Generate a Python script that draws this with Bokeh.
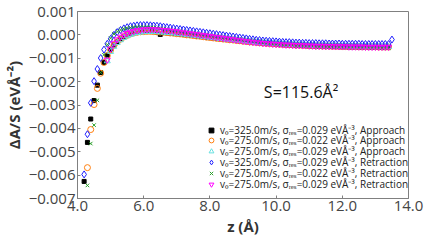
from bokeh.plotting import figure
from bokeh.models import (Range1d, FixedTicker, CustomJSTickFormatter, Legend,
                          LegendItem, Label)
from bokeh.embed import file_html
from bokeh.resources import INLINE

# ---------------- data (ΔA/S in units of 1e-3 eV/Å²) ----------------
z_grid = [4.2, 4.3, 4.4, 4.5, 4.6, 4.7, 4.8, 4.9, 5.0, 5.1, 5.2, 5.3, 5.4, 5.5,
          5.6, 5.7, 5.8, 5.9, 6.0, 6.1, 6.2, 6.3, 6.4, 6.5, 6.6, 6.7, 6.8, 6.9,
          7.0, 7.1, 7.2, 7.3, 7.4, 7.5, 7.6, 7.7, 7.8, 7.9, 8.0, 8.1, 8.2, 8.3,
          8.4, 8.5, 8.6, 8.7, 8.8, 8.9, 9.0, 9.1, 9.2, 9.3, 9.4, 9.5, 9.6, 9.7,
          9.8, 9.9, 10.0, 10.1, 10.2, 10.3, 10.4, 10.5, 10.6, 10.7, 10.8, 10.9,
          11.0, 11.1, 11.2, 11.3, 11.4, 11.5, 11.6, 11.7, 11.8, 11.9, 12.0, 12.1,
          12.2, 12.3, 12.4, 12.5, 12.6, 12.7, 12.8, 12.9, 13.0, 13.1, 13.2, 13.3,
          13.4, 13.5]

# approach, v0=325, sigma=0.029  (z from 4.2)
app_325_029 = [-6.27, -4.60, -3.60, -2.81, -2.15, -1.61, -1.18, -0.87, -0.62, -0.43,
               -0.28, -0.16, -0.07, 0.00, 0.05, 0.09, 0.12, 0.14, 0.15, 0.15,
               0.15, 0.14, 0.12, 0.02, 0.10, 0.09, 0.08, 0.06, 0.05, 0.03,
               0.02, 0.00, -0.02, -0.03, -0.05, -0.07, -0.08, -0.10, -0.12, -0.13,
               -0.15, -0.17, -0.18, -0.20, -0.21, -0.23, -0.24, -0.26, -0.27, -0.29,
               -0.30, -0.31, -0.33, -0.34, -0.35, -0.36, -0.37, -0.38, -0.39, -0.40,
               -0.41, -0.42, -0.43, -0.43, -0.44, -0.45, -0.45, -0.46, -0.46, -0.47,
               -0.47, -0.48, -0.48, -0.48, -0.49, -0.49, -0.49, -0.50, -0.50, -0.50,
               -0.50, -0.51, -0.51, -0.51, -0.51, -0.51, -0.52, -0.52, -0.52, -0.52,
               -0.52, -0.52, -0.52]
# approach, v0=275, sigma=0.022  (z from 4.3)
app_275_022 = [-5.68, -4.05, -2.98, -2.29, -1.64, -1.18, -0.89, -0.64, -0.45, -0.30,
               -0.18, -0.09, -0.02, 0.04, 0.08, 0.11, 0.13, 0.14, 0.15, 0.15,
               0.14, 0.13, 0.12, 0.11, 0.10, 0.08, 0.07, 0.05, 0.04, 0.02,
               0.00, -0.01, -0.03, -0.05, -0.06, -0.08, -0.10, -0.11, -0.13, -0.15,
               -0.16, -0.18, -0.19, -0.21, -0.22, -0.24, -0.25, -0.27, -0.28, -0.30,
               -0.31, -0.32, -0.33, -0.35, -0.36, -0.37, -0.38, -0.39, -0.40, -0.41,
               -0.41, -0.42, -0.43, -0.44, -0.44, -0.45, -0.45, -0.46, -0.46, -0.47,
               -0.47, -0.48, -0.48, -0.48, -0.49, -0.49, -0.49, -0.50, -0.50, -0.50,
               -0.50, -0.50, -0.51, -0.51, -0.51, -0.51, -0.51, -0.51, -0.52, -0.52,
               -0.52, -0.52]
# approach, v0=275, sigma=0.029  (z from 4.9)
app_275_029 = [-1.12, -0.72, -0.50, -0.34, -0.22, -0.12, -0.05, 0.01, 0.06, 0.09,
               0.11, 0.13, 0.14, 0.14, 0.14, 0.13, 0.12, 0.11, 0.10, 0.09,
               0.07, 0.06, 0.04, 0.03, 0.01, -0.01, -0.02, -0.04, -0.06, -0.07,
               -0.09, -0.11, -0.12, -0.14, -0.16, -0.17, -0.19, -0.20, -0.22, -0.23,
               -0.25, -0.26, -0.28, -0.29, -0.30, -0.32, -0.33, -0.34, -0.35, -0.36,
               -0.37, -0.38, -0.39, -0.40, -0.41, -0.42, -0.42, -0.43, -0.44, -0.44,
               -0.45, -0.45, -0.46, -0.46, -0.47, -0.47, -0.47, -0.48, -0.48, -0.48,
               -0.49, -0.49, -0.49, -0.49, -0.50, -0.50, -0.50, -0.50, -0.50, -0.51,
               -0.51, -0.51, -0.51, -0.51, -0.51, -0.51]
# retraction, v0=325, sigma=0.029  (z from 4.2 to 13.5)
ret_325_029 = [-5.97, -4.25, -2.91, -1.98, -1.46, -0.99, -0.63, -0.38, -0.17, 0.00,
               0.12, 0.21, 0.28, 0.33, 0.37, 0.39, 0.41, 0.42, 0.42, 0.42,
               0.41, 0.40, 0.39, 0.37, 0.35, 0.33, 0.31, 0.29, 0.27, 0.25,
               0.23, 0.21, 0.19, 0.17, 0.15, 0.13, 0.11, 0.09, 0.07, 0.05,
               0.03, 0.01, -0.01, -0.03, -0.05, -0.07, -0.09, -0.11, -0.13, -0.15,
               -0.17, -0.19, -0.21, -0.22, -0.24, -0.25, -0.26, -0.27, -0.28, -0.29,
               -0.30, -0.31, -0.31, -0.32, -0.33, -0.33, -0.34, -0.34, -0.35, -0.35,
               -0.35, -0.36, -0.36, -0.36, -0.37, -0.37, -0.37, -0.37, -0.38, -0.38,
               -0.38, -0.38, -0.38, -0.38, -0.39, -0.39, -0.39, -0.39, -0.39, -0.39,
               -0.39, -0.39, -0.39, -0.20]
# retraction, v0=275, sigma=0.022  (z from 4.3)
ret_275_022 = [-6.44, -4.65, -3.86, -2.80, -1.61, -0.85, -0.42, -0.14, 0.04, 0.14,
               0.21, 0.26, 0.29, 0.31, 0.33, 0.33, 0.34, 0.33, 0.33, 0.32,
               0.31, 0.29, 0.28, 0.26, 0.24, 0.22, 0.20, 0.18, 0.16, 0.14,
               0.12, 0.10, 0.08, 0.06, 0.04, 0.02, 0.00, -0.02, -0.04, -0.06,
               -0.08, -0.10, -0.12, -0.14, -0.16, -0.18, -0.20, -0.22, -0.24, -0.26,
               -0.28, -0.30, -0.32, -0.34, -0.36, -0.38, -0.40, -0.41, -0.42, -0.43,
               -0.44, -0.45, -0.46, -0.47, -0.48, -0.48, -0.49, -0.50, -0.50, -0.51,
               -0.51, -0.52, -0.52, -0.52, -0.53, -0.53, -0.53, -0.54, -0.54, -0.54,
               -0.54, -0.55, -0.55, -0.55, -0.55, -0.55, -0.55, -0.56, -0.56, -0.56,
               -0.56, -0.56]
# retraction, v0=275, sigma=0.029  (z from 4.9)
ret_275_029 = [-1.07, -0.60, -0.35, -0.20, -0.09, 0.00, 0.07, 0.12, 0.16, 0.19,
               0.21, 0.22, 0.23, 0.23, 0.23, 0.22, 0.21, 0.20, 0.19, 0.17,
               0.16, 0.14, 0.12, 0.10, 0.08, 0.06, 0.04, 0.02, 0.00, -0.02,
               -0.04, -0.06, -0.08, -0.10, -0.12, -0.14, -0.16, -0.18, -0.20, -0.22,
               -0.24, -0.26, -0.28, -0.30, -0.31, -0.33, -0.34, -0.36, -0.37, -0.38,
               -0.39, -0.40, -0.41, -0.42, -0.43, -0.43, -0.44, -0.45, -0.45, -0.46,
               -0.46, -0.47, -0.47, -0.48, -0.48, -0.48, -0.49, -0.49, -0.49, -0.50,
               -0.50, -0.50, -0.50, -0.51, -0.51, -0.51, -0.51, -0.51, -0.52, -0.52,
               -0.52, -0.52, -0.52, -0.52, -0.52, -0.52]

series_labels = [
    "v\u2080=325.0m/s, \u03c3\u1d63\u2091\u209b=0.029 eV\u00c5\u207b\u00b3, Approach",
    "v\u2080=275.0m/s, \u03c3\u1d63\u2091\u209b=0.022 eV\u00c5\u207b\u00b3, Approach",
    "v\u2080=275.0m/s, \u03c3\u1d63\u2091\u209b=0.029 eV\u00c5\u207b\u00b3, Approach",
    "v\u2080=325.0m/s, \u03c3\u1d63\u2091\u209b=0.029 eV\u00c5\u207b\u00b3, Retraction",
    "v\u2080=275.0m/s, \u03c3\u1d63\u2091\u209b=0.022 eV\u00c5\u207b\u00b3, Retraction",
    "v\u2080=275.0m/s, \u03c3\u1d63\u2091\u209b=0.029 eV\u00c5\u207b\u00b3, Retraction",
]
series_values = [app_325_029, app_275_022, app_275_029, ret_325_029, ret_275_022, ret_275_029]
series_start = [4.2, 4.3, 4.9, 4.2, 4.3, 4.9]

x_ticks = [4.0, 6.0, 8.0, 10.0, 12.0, 14.0]
x_tick_labels = ["4.0", "6.0", "8.0", "10.0", "12.0", "14.0"]
y_ticks = [0.001, 0.0, -0.001, -0.002, -0.003, -0.004, -0.005, -0.006, -0.007]
y_tick_labels = ["0.001", "0.000", "\u22120.001", "\u22120.002", "\u22120.003",
                 "\u22120.004", "\u22120.005", "\u22120.006", "\u22120.007"]
area_text = "S=115.6\u00c5\u00b2"

# ---------------- styles ----------------
styles = [
    dict(marker="square", size=4, fill_color="black", line_color="black"),
    dict(marker="circle", size=6, fill_color=None, line_color="#ff7f0e"),
    dict(marker="triangle", size=6, fill_color=None, line_color="#66e0e0"),
    dict(marker="diamond", size=7, fill_color=None, line_color="#1f1fff"),
    dict(marker="x", size=5, fill_color=None, line_color="#2ca02c"),
    dict(marker="inverted_triangle", size=6, fill_color=None, line_color="#ff00ff"),
]

FONT = "Open Sans"
GREY = "#808080"

p = figure(width=425, height=242, output_backend="svg", toolbar_location=None,
           x_range=Range1d(4.0, 14.0), y_range=Range1d(-0.007, 0.001),
           min_border_left=74, min_border_right=17, min_border_top=11,
           min_border_bottom=44)
p.grid.visible = False
p.outline_line_color = GREY
p.outline_line_width = 1
p.background_fill_color = "white"
p.border_fill_color = "white"

# one single-row legend per series so rows can sit closer than the text box height
ROW_H = 14
ROW_PITCH = 10.8
for k, (lab, vals, z0, st) in enumerate(zip(series_labels, series_values, series_start, styles)):
    i0 = z_grid.index(z0)
    zs = z_grid[i0:i0 + len(vals)]
    ys = [v * 1e-3 for v in vals]
    r = p.scatter(zs, ys, line_width=1, **st)
    bottom = 61.5 - ROW_PITCH * k
    lg = Legend(items=[LegendItem(label=lab, renderers=[r])], location=(128, bottom),
                glyph_width=12, glyph_height=ROW_H, label_height=ROW_H, spacing=0,
                label_standoff=3, padding=0, margin=0,
                label_text_font=FONT, label_text_font_size="10px",
                label_text_color="#222222", label_text_baseline="middle",
                background_fill_alpha=0, border_line_alpha=0)
    p.add_layout(lg, "center")

xfmt = CustomJSTickFormatter(args=dict(tk=x_ticks, lbl=x_tick_labels), code="""
const i = tk.findIndex(t => Math.abs(t - tick) < 1e-9);
return i >= 0 ? lbl[i] : tick.toFixed(1);""")
yfmt = CustomJSTickFormatter(args=dict(tk=y_ticks, lbl=y_tick_labels), code="""
const i = tk.findIndex(t => Math.abs(t - tick) < 1e-12);
return i >= 0 ? lbl[i] : tick.toFixed(3);""")

for ax, tks, fm in ((p.xaxis[0], x_ticks, xfmt), (p.yaxis[0], y_ticks, yfmt)):
    ax.ticker = FixedTicker(ticks=tks)
    ax.formatter = fm
    ax.axis_line_color = GREY
    ax.major_tick_line_color = GREY
    ax.major_tick_in = 3
    ax.major_tick_out = 0
    ax.minor_tick_line_color = None
    ax.major_label_text_font = FONT
    ax.major_label_text_font_size = "15px"
    ax.major_label_text_color = "#444444"
    ax.axis_label_text_font = FONT
    ax.axis_label_text_font_size = "15px"
    ax.axis_label_text_font_style = "bold"
    ax.axis_label_text_color = "#333333"
    ax.major_label_standoff = 2
    ax.axis_label_standoff = 2

p.xaxis.axis_label = "z (\u00c5)"
p.yaxis.axis_label = "\u0394A/S (eV\u00c5\u207b\u00b2)"

p.add_layout(Label(x=9.63, y=-0.00244, text=area_text, text_align="left",
                   text_baseline="middle", text_font=FONT, text_font_size="16px",
                   text_color="#111111"))

open("out.html", "w").write(file_html(p, INLINE))
